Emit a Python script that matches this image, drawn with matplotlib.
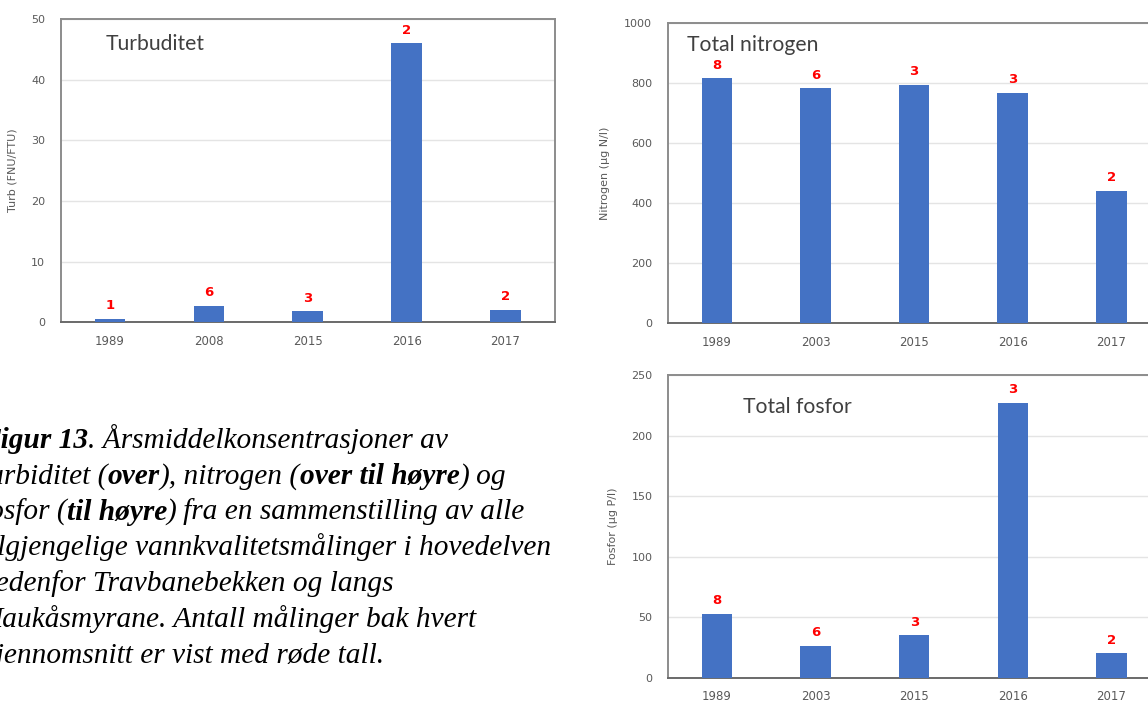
import matplotlib
matplotlib.use("Agg")
import matplotlib.pyplot as plt
from matplotlib.ticker import MultipleLocator

# Annual mean concentrations and number of samples behind each mean
years_turb = ["1989", "2008", "2015", "2016", "2017"]
turb_values = [0.55, 2.75, 1.8, 46.0, 2.0]
turb_counts = [1, 6, 3, 2, 2]

years_nutr = ["1989", "2003", "2015", "2016", "2017"]
nitrogen_values = [815, 782, 793, 767, 441]
nitrogen_counts = [8, 6, 3, 3, 2]

phosphorus_values = [53, 26.5, 35, 227, 20]
phosphorus_counts = [8, 6, 3, 3, 2]

W, H = 1148, 702
fig = plt.figure(figsize=(W / 100, H / 100), dpi=100)
fig.patch.set_facecolor("white")

BAR_COLOR = "#4472C4"
TICK_COLOR = "#595959"
TITLE_FONT = ["Lato", "DejaVu Sans"]


def panel(rect_px, cats, vals, counts, ymax, step, ylabel, ylabel_x,
          title, title_xy):
    left, top, right, bottom = rect_px
    ax = fig.add_axes([left / W, 1 - bottom / H, (right - left) / W,
                       (bottom - top) / H])
    xs = list(range(len(cats)))
    ax.bar(xs, vals, width=0.31, color=BAR_COLOR, zorder=3)
    ax.set_xlim(-0.5, len(cats) - 0.5)
    ax.set_ylim(0, ymax)
    ax.yaxis.set_major_locator(MultipleLocator(step))
    ax.set_xticks(xs, cats)
    ax.grid(axis="y", color="#e4e4e4", lw=1, zorder=0)
    ax.tick_params(length=0, labelsize=8, labelcolor=TICK_COLOR)
    ax.tick_params(axis="x", pad=9, labelsize=8.5)
    ax.tick_params(axis="y", pad=11)
    for side in ("top", "right", "left"):
        ax.spines[side].set_color("#8c8c8c")
        ax.spines[side].set_linewidth(1.4)
    ax.spines["bottom"].set_color("#6a6a6a")
    ax.spines["bottom"].set_linewidth(1.4)
    for xi, v, c in zip(xs, vals, counts):
        ax.annotate(str(c), (xi, v), xytext=(0, 9.5),
                    textcoords="offset points", ha="center", va="center",
                    color="#FF0000", fontweight="bold", fontsize=9.5)
    ax.text(title_xy[0], title_xy[1], title, transform=ax.transAxes,
            fontsize=15.2, color="#404040", ha="left", va="center",
            family=TITLE_FONT)
    ax.set_ylabel(ylabel, fontsize=8, color=TICK_COLOR)
    ax.yaxis.set_label_coords(ylabel_x, 0.5)
    return ax


panel((60.5, 19, 555, 322.3), years_turb, turb_values, turb_counts,
      50, 10, "Turb (FNU/FTU)", -0.086, "Turbuditet", (0.0914, 0.9176))
panel((667.5, 22.7, 1160.7, 323.3), years_nutr, nitrogen_values,
      nitrogen_counts, 1000, 200, "Nitrogen (µg N/l)", -0.1166,
      "Total nitrogen", (0.039, 0.926))
panel((667.7, 375, 1160.7, 677.7), years_nutr, phosphorus_values,
      phosphorus_counts, 250, 50, "Fosfor (µg P/l)", -0.1016,
      "Total fosfor", (0.1537, 0.8956))

# Figure caption, italic with bold-italic emphasis
caption_lines = [
    [("Figur 13", True), (". Årsmiddelkonsentrasjoner av", False)],
    [("turbiditet (", False), ("over", True), ("), nitrogen (", False),
     ("over til høyre", True), (") og", False)],
    [("fosfor (", False), ("til høyre", True),
     (") fra en sammenstilling av alle", False)],
    [("tilgjengelige vannkvalitetsmålinger i hovedelven", False)],
    [("nedenfor Travbanebekken og langs", False)],
    [("Haukåsmyrane. Antall målinger bak hvert", False)],
    [("gjennomsnitt er vist med røde tall.", False)],
]

cap = fig.add_axes([0, 0, 1, 1], zorder=-1)
cap.axis("off")
cap.set_xlim(0, W)
cap.set_ylim(H, 0)

x0 = -19
y_first = 454
line_step = 35.8
for i, line in enumerate(caption_lines):
    prev = None
    for seg, bold in line:
        kw = dict(fontsize=21.2, family=["Liberation Serif", "DejaVu Serif"],
                  style="italic", fontweight="bold" if bold else "normal",
                  color="black", ha="left", va="bottom", clip_on=False)
        if prev is None:
            prev = cap.text(x0, y_first + i * line_step, seg, **kw)
        else:
            prev = cap.annotate(seg, xy=(1, 0), xycoords=prev, **kw)

fig.savefig("out.png", dpi=100, facecolor="white")
